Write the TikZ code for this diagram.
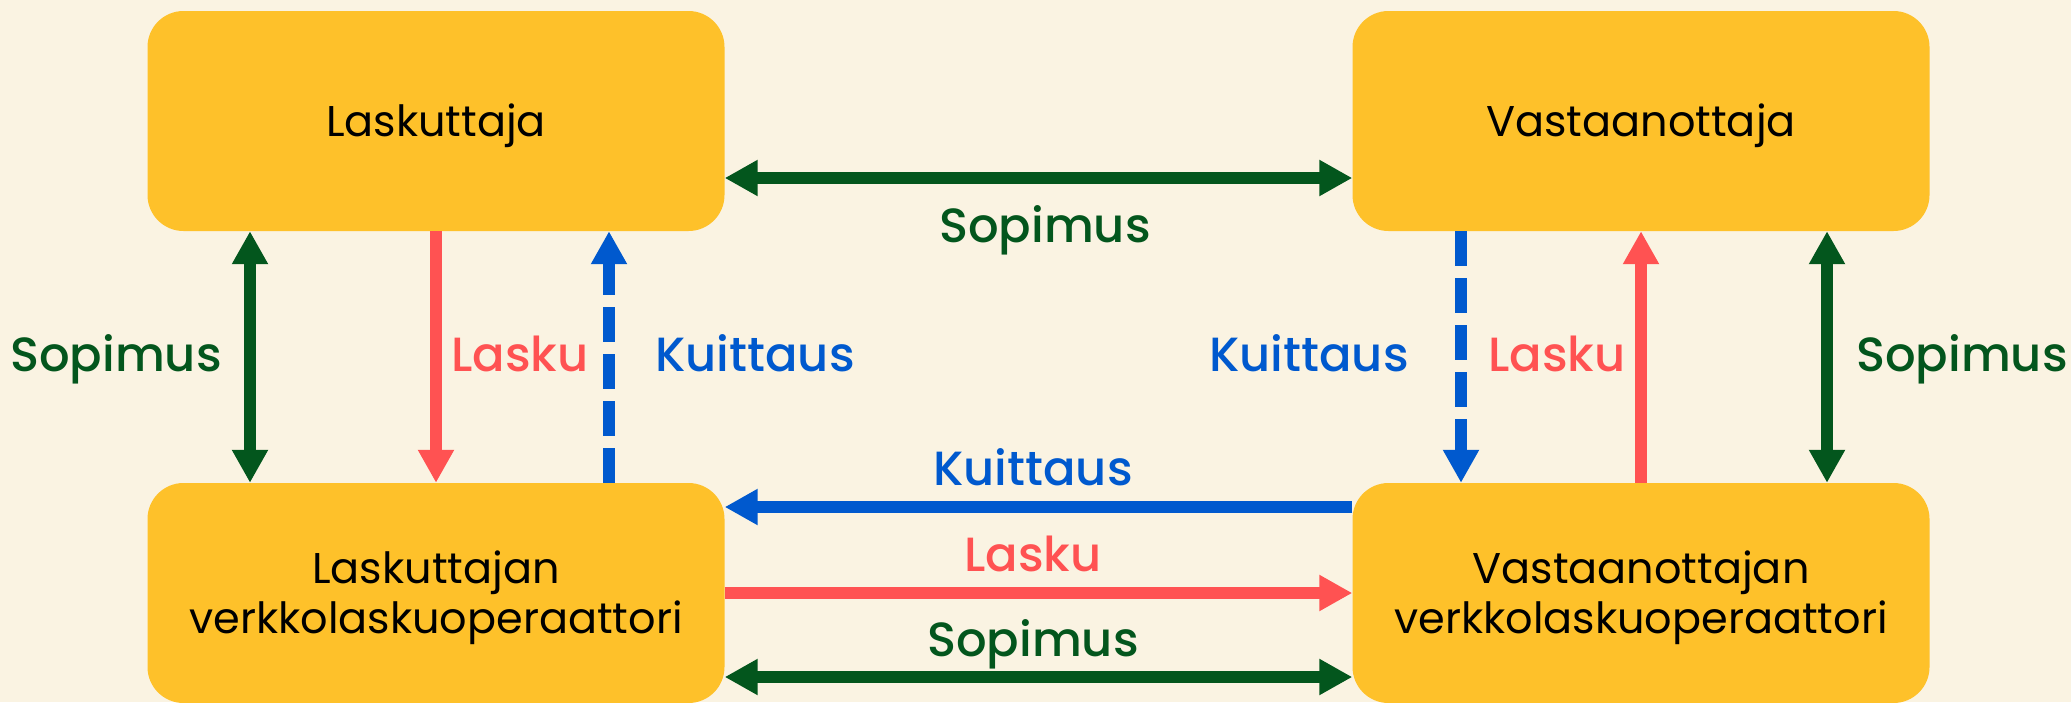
\documentclass[tikz,border=0pt]{standalone}
\usepackage{fontspec}
\setmainfont{Poppins}
\newfontfamily\labfont{Poppins Medium}
\usetikzlibrary{arrows.meta}
\definecolor{bgc}{HTML}{FAF3E2}
\definecolor{boxc}{HTML}{FEC12A}
\definecolor{greenc}{HTML}{03561D}
\definecolor{redc}{HTML}{FF5252}
\definecolor{bluec}{HTML}{0059CE}
\tikzset{
  party/.style={fill=boxc, rounded corners=36pt, minimum width=577pt, minimum height=220pt,
    inner sep=0pt, align=center, font=\fontsize{43}{50}\selectfont, text=black},
  onebox/.style={party, text height=30pt, text depth=0pt},
  twobox/.style={party, text height=80pt, text depth=0pt},
  tipt/.tip={Triangle[width=34pt,length=33pt]},
  flow/.style={line width=12pt, -tipt},
  both/.style={line width=12pt, tipt-tipt},
  dashflow/.style={flow, dash pattern=on 35pt off 12pt},
  lab/.style={anchor=base, inner sep=0pt, font=\labfont\fontsize{48}{56}\selectfont}
}
\begin{document}
\begin{tikzpicture}[x=1pt,y=-1pt]
\fill[bgc] (0,0) rectangle (2071,702);
\useasboundingbox (0,0) rectangle (2071,702);
\node[onebox] (lt) at (436,121) {Laskuttaja};
\node[onebox] (rt) at (1641,121) {Vastaanottaja};
\node[twobox] (lb) at (436,593) {Laskuttajan\\verkkolaskuoperaattori};
\node[twobox] (rb) at (1641,593) {Vastaanottajan\\verkkolaskuoperaattori};
% top horizontal
\draw[both, greenc] ([yshift=-57pt]lt.east) -- ([yshift=-57pt]rt.west);
% left verticals
\draw[both, greenc] ([xshift=-186pt]lt.south) -- ([xshift=-186pt]lb.north);
\draw[flow, redc] (lt.south) -- (lb.north);
\draw[dashflow, bluec] ([xshift=173pt]lb.north) -- ([xshift=173pt]lt.south);
% right verticals
\draw[dashflow, bluec] ([xshift=-180pt]rt.south) -- ([xshift=-180pt]rb.north);
\draw[flow, redc] (rb.north) -- (rt.south);
\draw[both, greenc] ([xshift=186pt]rt.south) -- ([xshift=186pt]rb.north);
% bottom horizontals
\draw[flow, bluec] ([yshift=86pt]rb.west) -- ([yshift=86pt]lb.east);
\draw[flow, redc] (lb.east) -- (rb.west);
\draw[both, greenc] ([yshift=-84pt]lb.east) -- ([yshift=-84pt]rb.west);
% labels
\node[lab, text=greenc] (l1) at (1045,242) {Sopimus};
\node[lab, text=greenc] (l2) at (116,371) {Sopimus};
\node[lab, text=redc] (l3) at (520,371) {Lasku};
\node[lab, text=bluec] (l4) at (755,371) {Kuittaus};
\node[lab, text=bluec] (l5) at (1309,371) {Kuittaus};
\node[lab, text=redc] (l6) at (1557,371) {Lasku};
\node[lab, text=greenc] (l7) at (1962,371) {Sopimus};
\node[lab, text=bluec] (l8) at (1033,485) {Kuittaus};
\node[lab, text=redc] (l9) at (1033,571) {Lasku};
\node[lab, text=greenc] (l10) at (1033,656) {Sopimus};
\end{tikzpicture}
\end{document}
